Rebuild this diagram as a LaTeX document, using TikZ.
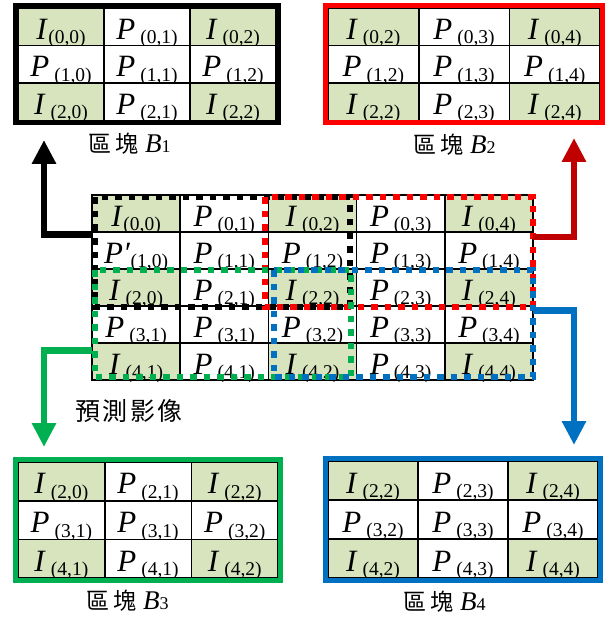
\documentclass[tikz,border=0pt]{standalone}
\usepackage{fontspec}
\setmainfont{Liberation Serif}
\newfontfamily\cjk{Noto Sans CJK TC}
\usetikzlibrary{arrows.meta}

\definecolor{cellgreen}{HTML}{D7E4BD}
\definecolor{frameRed}{HTML}{FF0000}
\definecolor{arrowRed}{HTML}{C00000}
\definecolor{frameGreen}{HTML}{00B050}
\definecolor{frameBlue}{HTML}{0070C0}

% type sizes
\newcommand{\mainsz}{\fontsize{31}{33}\selectfont}
\newcommand{\subsz}{\fontsize{19.5}{21}\selectfont}

% cell contents: letter, index pair, gap
\newcommand{\sym}[3]{{\mainsz\textit{#1}}\hspace{#3}\raisebox{-4.5pt}{\subsz(#2)}}
\newcommand{\cI}[1]{\sym{I}{#1}{5pt}}
\newcommand{\cP}[1]{\sym{P}{#1}{5pt}}
\newcommand{\cIt}[1]{\sym{I}{#1}{0.5pt}}
\newcommand{\cPp}[1]{\sym{P′}{#1}{0.5pt}}

% block caption
\newcommand{\blocklabel}[1]{{\cjk\fontsize{23}{25}\selectfont 區\kern4pt塊}\hspace{7pt}{\fontsize{27}{29}\selectfont\textit{B}}{\fontsize{18}{19}\selectfont #1}}

% grid of cells: prefix, x0, y0, column width, row height, list r/c/content/fill
\newcommand{\cellgrid}[6]{%
  \foreach \r/\c/\t/\f in {#6} {
    \node[cellbox, fill=\f, minimum width=#4pt, minimum height=#5pt]
      (#1-\r-\c) at ({#2+(\c+0.5)*#4},{#3+(\r+0.5)*#5}) {\t};
  }}

\tikzset{
  cellbox/.style={draw=black, line width=1.6pt, inner sep=0pt, outer sep=0pt,
    text height=25pt, text depth=0pt},
  blockframe/.style={line width=5pt},
  region/.style={line width=6pt, dash pattern=on 6.5pt off 7pt},
  flowarrow/.style={line width=6.5pt, -{Triangle[width=23pt,length=24pt]}},
  caption/.style={anchor=base west, inner sep=0pt}
}

\begin{document}
\begin{tikzpicture}[x=1pt, y=-1pt]
\useasboundingbox (0,0) rectangle (605,617);

% predicted image, 5 x 5 cells
\cellgrid{C}{92}{195}{88.2}{37}{
  0/0/{\cIt{0,0}}/cellgreen, 0/1/{\cP{0,1}}/white, 0/2/{\cI{0,2}}/cellgreen, 0/3/{\cP{0,3}}/white, 0/4/{\cI{0,4}}/cellgreen,
  1/0/{\cPp{1,0}}/white, 1/1/{\cP{1,1}}/white, 1/2/{\cP{1,2}}/white, 1/3/{\cP{1,3}}/white, 1/4/{\cP{1,4}}/white,
  2/0/{\cI{2,0}}/cellgreen, 2/1/{\cP{2,1}}/white, 2/2/{\cI{2,2}}/cellgreen, 2/3/{\cP{2,3}}/white, 2/4/{\cI{2,4}}/cellgreen,
  3/0/{\cP{3,1}}/white, 3/1/{\cP{3,1}}/white, 3/2/{\cP{3,2}}/white, 3/3/{\cP{3,3}}/white, 3/4/{\cP{3,4}}/white,
  4/0/{\cI{4,1}}/cellgreen, 4/1/{\cP{4,1}}/white, 4/2/{\cI{4,2}}/cellgreen, 4/3/{\cP{4,3}}/white, 4/4/{\cI{4,4}}/cellgreen}

% overlapping block regions
\draw[region, black]      (94.5,197.5) rectangle (350,306.5);
\draw[region, frameRed]   (264.5,197.5) rectangle (533,307);
\draw[region, frameGreen] (94.5,270) rectangle (351,377);
\draw[region, frameBlue]  (274,270) rectangle (533,377);

\node[caption] (pred) at (75,420) {\cjk\fontsize{25}{27}\selectfont 預\kern2.5pt測\kern2.5pt影\kern2.5pt像};

% block B1
\cellgrid{A}{18}{8}{86}{37.5}{
  0/0/{\cIt{0,0}}/cellgreen, 0/1/{\cP{0,1}}/white, 0/2/{\cI{0,2}}/cellgreen,
  1/0/{\cP{1,0}}/white, 1/1/{\cP{1,1}}/white, 1/2/{\cP{1,2}}/white,
  2/0/{\cI{2,0}}/cellgreen, 2/1/{\cP{2,1}}/white, 2/2/{\cI{2,2}}/cellgreen}
\draw[blockframe, black] ([shift={(-2.5pt,2.5pt)}]A-0-0.north west) rectangle ([shift={(2.5pt,-2.5pt)}]A-2-2.south east);
\node[caption] (labA) at (88,153) {\blocklabel{1}};

% block B2
\cellgrid{B}{328}{8}{90.7}{37.5}{
  0/0/{\cI{0,2}}/cellgreen, 0/1/{\cP{0,3}}/white, 0/2/{\cI{0,4}}/cellgreen,
  1/0/{\cP{1,2}}/white, 1/1/{\cP{1,3}}/white, 1/2/{\cP{1,4}}/white,
  2/0/{\cI{2,2}}/cellgreen, 2/1/{\cP{2,3}}/white, 2/2/{\cI{2,4}}/cellgreen}
\draw[blockframe, frameRed] ([shift={(-2.5pt,2.5pt)}]B-0-0.north west) rectangle ([shift={(2.5pt,-2.5pt)}]B-2-2.south east);
\node[caption] (labB) at (413,154) {\blocklabel{2}};

% block B3
\cellgrid{G}{18}{462}{86.7}{38.7}{
  0/0/{\cI{2,0}}/cellgreen, 0/1/{\cP{2,1}}/white, 0/2/{\cI{2,2}}/cellgreen,
  1/0/{\cP{3,1}}/white, 1/1/{\cP{3,1}}/white, 1/2/{\cP{3,2}}/white,
  2/0/{\cI{4,1}}/cellgreen, 2/1/{\cP{4,1}}/white, 2/2/{\cI{4,2}}/cellgreen}
\draw[blockframe, frameGreen] ([shift={(-2.5pt,2.5pt)}]G-0-0.north west) rectangle ([shift={(2.5pt,-2.5pt)}]G-2-2.south east);
\node[caption] (labG) at (86,609) {\blocklabel{3}};

% block B4
\cellgrid{D}{328}{461}{90}{39}{
  0/0/{\cI{2,2}}/cellgreen, 0/1/{\cP{2,3}}/white, 0/2/{\cI{2,4}}/cellgreen,
  1/0/{\cP{3,2}}/white, 1/1/{\cP{3,3}}/white, 1/2/{\cP{3,4}}/white,
  2/0/{\cI{4,2}}/cellgreen, 2/1/{\cP{4,3}}/white, 2/2/{\cI{4,4}}/cellgreen}
\draw[blockframe, frameBlue] ([shift={(-2.5pt,2.5pt)}]D-0-0.north west) rectangle ([shift={(2.5pt,-2.5pt)}]D-2-2.south east);
\node[caption] (labD) at (403,610) {\blocklabel{4}};

% arrow ends below/above the blocks
\coordinate (tipA) at (44,140);
\coordinate (tipB) at (574,138);
\coordinate (tipG) at (44,447);
\coordinate (tipD) at (574,445);

% leaders from the regions to their blocks
\draw[flowarrow, black]      (C-1-0.west |- 0,234.5) -| (tipA);
\draw[flowarrow, arrowRed]   (C-1-4.east |- 0,237)   -| (tipB);
\draw[flowarrow, frameGreen] (C-4-0.west |- 0,350.5) -| (tipG);
\draw[flowarrow, frameBlue]  (C-3-4.east |- 0,310.5) -| (tipD);
\end{tikzpicture}
\end{document}
